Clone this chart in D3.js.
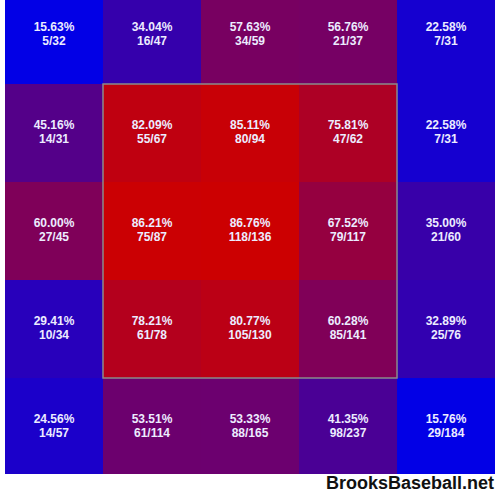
<!DOCTYPE html>
<html><head><meta charset="utf-8">
<script src="https://cdn.jsdelivr.net/npm/d3@7"></script>
<style>
html,body{margin:0;padding:0;background:#fff;}
svg{display:block;}
</style></head>
<body>
<script>
const rowsIdx = [0,1,2,3,4];
const colsIdx = [0,1,2,3,4];
const pctValues = [
  [15.63, 34.04, 57.63, 56.76, 22.58],
  [45.16, 82.09, 85.11, 75.81, 22.58],
  [60.00, 86.21, 86.76, 67.52, 35.00],
  [29.41, 78.21, 80.77, 60.28, 32.89],
  [24.56, 53.51, 53.33, 41.35, 15.76]
];
const hits = [
  [5, 16, 34, 21, 7],
  [14, 55, 80, 47, 7],
  [27, 75, 118, 79, 21],
  [10, 61, 105, 85, 25],
  [14, 61, 88, 98, 29]
];
const totals = [
  [32, 47, 59, 37, 31],
  [31, 67, 94, 62, 31],
  [45, 87, 136, 117, 60],
  [34, 78, 130, 141, 76],
  [57, 114, 165, 237, 184]
];

const W = 500, H = 492;
const svg = d3.select("body").append("svg").attr("width", W).attr("height", H);

const x = d3.scaleBand().domain(colsIdx).range([5, 495]);
const y = d3.scaleBand().domain(rowsIdx).range([-14, 476]);
const color = d3.scaleLinear()
  .domain([15, 50, 87])
  .range(["rgb(0,0,232)", "rgb(98,0,122)", "rgb(205,0,0)"])
  .clamp(true);

const cells = [];
rowsIdx.forEach(r => colsIdx.forEach(c => cells.push({r, c, p: pctValues[r][c], h: hits[r][c], t: totals[r][c]})));

const g = svg.append("g");
svg.append("clipPath").attr("id","cl").append("rect").attr("x",5).attr("y",0).attr("width",490).attr("height",474);
const grid = g.append("g").attr("clip-path","url(#cl)");

grid.selectAll("rect.cell").data(cells).join("rect")
  .attr("class","cell")
  .attr("x", d => x(d.c)).attr("y", d => y(d.r))
  .attr("width", x.bandwidth()).attr("height", y.bandwidth())
  .attr("fill", d => color(d.p));

// strike zone border
g.append("rect")
  .attr("x", x(1)).attr("y", y(1))
  .attr("width", x(3) + x.bandwidth() - x(1))
  .attr("height", y(3) + y.bandwidth() - y(1))
  .attr("fill", "none").attr("stroke", "#8a8a8a").attr("stroke-width", 1.5);

const txt = grid.selectAll("g.lbl").data(cells).join("g")
  .attr("class","lbl")
  .attr("transform", d => `translate(${x(d.c) + x.bandwidth()/2},${y(d.r) + y.bandwidth()/2})`);
txt.append("text").attr("text-anchor","middle").attr("y", -4)
  .attr("font-family","Liberation Sans, Arial, sans-serif").attr("font-size", 12)
  .attr("font-weight","bold")
  .attr("fill","#ececff")
  .text(d => d.p.toFixed(2) + "%");
txt.append("text").attr("text-anchor","middle").attr("y", 10)
  .attr("font-family","Liberation Sans, Arial, sans-serif").attr("font-size", 12)
  .attr("font-weight","bold")
  .attr("fill","#ececff")
  .text(d => d.h + "/" + d.t);

svg.append("text").attr("x", 494).attr("y", 489).attr("text-anchor","end")
  .attr("font-family","Liberation Sans, Arial, sans-serif").attr("font-weight","bold")
  .attr("font-size", 18).attr("fill","#111")
  .text("BrooksBaseball.net");
</script>
</body></html>
